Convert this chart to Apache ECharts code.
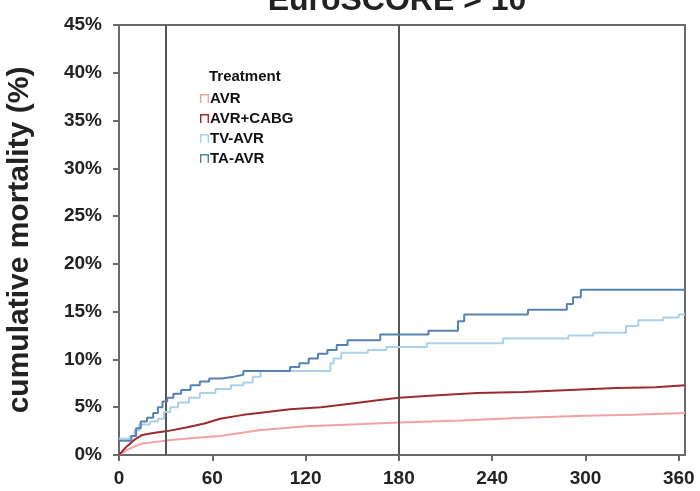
<!DOCTYPE html>
<html>
<head>
<meta charset="utf-8">
<script src="https://cdn.jsdelivr.net/npm/echarts@6/dist/echarts.min.js"></script>
<style>
  html, body { margin: 0; padding: 0; background: #fff; }
  #chart { width: 700px; height: 491px; }
</style>
</head>
<body>
<div id="chart"></div>
<script>
// Cumulative mortality by treatment group, days 0-360 (Kaplan-Meier style curves)
const titleText = 'EuroSCORE > 10';
const seriesNames = ['AVR', 'AVR+CABG', 'TV-AVR', 'TA-AVR'];
const seriesColors = ['#f2a2a4', '#9c2b2e', '#a9d2ea', '#5582b0'];
const xTicks = [0, 60, 120, 180, 240, 300, 360];
const yTicks = [0, 5, 10, 15, 20, 25, 30, 35, 40, 45];
const referenceDays = [30, 180];

// [day, cumulative mortality %]
const avr = [[0,0],[5,0.5],[10,0.9],[15,1.2],[25,1.4],[35,1.6],[50,1.8],[65,2.0],[90,2.6],[120,3.0],[150,3.2],[180,3.4],[220,3.6],[260,3.9],[300,4.1],[330,4.2],[364,4.4]];
const avrCabg = [[0,0],[5,0.9],[10,1.6],[15,2.1],[22,2.3],[31,2.5],[44,2.9],[55,3.3],[65,3.8],[80,4.2],[90,4.4],[110,4.8],[130,5.0],[150,5.4],[165,5.7],[180,6.0],[200,6.2],[230,6.5],[260,6.6],[290,6.8],[320,7.0],[345,7.1],[364,7.3]];
const tvAvr = [[0,1.7],[7,2.0],[10,2.6],[13,3.2],[20,3.5],[25,3.8],[29,4.5],[33,5.0],[38,5.5],[45,6.0],[52,6.5],[62,6.9],[72,7.3],[80,7.6],[86,8.2],[91,8.8],[136,9.6],[138,10.1],[143,10.7],[160,11.0],[172,11.3],[198,11.7],[247,12.2],[289,12.5],[305,12.8],[326,13.5],[334,14.1],[350,14.4],[360,14.7],[364,14.7]];
const taAvr = [[0,1.5],[8,2.0],[11,2.8],[14,3.5],[18,3.9],[22,4.4],[25,5.0],[28,5.6],[31,6.0],[35,6.4],[40,6.8],[46,7.3],[52,7.7],[58,8.0],[66,8.2],[74,8.4],[80,8.8],[110,9.2],[116,9.6],[122,10.1],[128,10.6],[134,11.0],[140,11.5],[147,12.0],[168,12.6],[199,13.0],[218,14.0],[222,14.7],[263,15.2],[288,15.8],[292,16.5],[297,17.3],[364,17.3]];

const seriesData = [avr, avrCabg, tvAvr, taAvr];
const stepped = [false, false, 'end', 'end'];

// open-bottom square marker used in the legend
const legendIcon = 'path://M0,10L0,0L10,0L10,10L8.4,10L8.4,1.6L1.6,1.6L1.6,10Z';

const chart = echarts.init(document.getElementById('chart'), null, { renderer: 'canvas' });

const series = seriesNames.map((name, i) => ({
  name,
  type: 'line',
  data: seriesData[i],
  step: stepped[i],
  showSymbol: false,
  symbol: 'none',
  z: 3 + i,
  lineStyle: { color: seriesColors[i], width: 2 },
  itemStyle: { color: seriesColors[i] }
}));

// vertical reference lines at 30 and 180 days
series.push({
  type: 'line',
  data: [],
  markLine: {
    silent: true,
    symbol: 'none',
    label: { show: false },
    lineStyle: { color: '#555555', width: 2, type: 'solid' },
    data: referenceDays.map(d => ({ xAxis: d }))
  },
  z: 2
});

chart.setOption({
  animation: false,
  backgroundColor: '#ffffff',
  textStyle: { fontFamily: 'Liberation Sans, Arial, sans-serif' },
  title: [
    {
      text: titleText,
      left: 392, top: -20,
      textAlign: 'center',
      textStyle: { fontSize: 32, fontWeight: 'bold', color: '#222' }
    },
    {
      text: 'Treatment',
      left: 204, top: 64,
      textStyle: { fontSize: 15, fontWeight: 'bold', color: '#111' }
    }
  ],
  legend: {
    orient: 'vertical',
    left: 195, top: 86,
    itemWidth: 9, itemHeight: 10,
    itemGap: 5,
    icon: legendIcon,
    textStyle: { fontSize: 15, fontWeight: 'bold', color: '#111', padding: [0, 0, 0, -4] },
    data: seriesNames
  },
  grid: {
    left: 119, right: 15, top: 25, bottom: 36,
    outerBoundsMode: 'none',
    containLabel: false,
    show: true,
    borderColor: '#6a6a6a', borderWidth: 2,
    backgroundColor: 'transparent'
  },
  xAxis: {
    type: 'value',
    min: 0, max: 364,
    interval: 60,
    axisLine: { show: true, lineStyle: { color: '#6a6a6a', width: 2 } },
    axisTick: { show: true, length: 6, customValues: xTicks, lineStyle: { color: '#6a6a6a', width: 2 } },
    axisLabel: { customValues: xTicks, fontSize: 19, fontWeight: 'bold', color: '#222', margin: 14 },
    splitLine: { show: false }
  },
  yAxis: {
    type: 'value',
    min: 0, max: 45, interval: 5,
    name: 'cumulative mortality (%)',
    nameLocation: 'middle',
    nameGap: 84,
    nameTextStyle: { fontSize: 30, fontWeight: 'bold', color: '#222' },
    axisLine: { show: true, lineStyle: { color: '#6a6a6a', width: 2 } },
    axisTick: { show: true, length: 6, lineStyle: { color: '#6a6a6a', width: 2 } },
    axisLabel: { fontSize: 19, fontWeight: 'bold', color: '#222', margin: 17, formatter: v => yTicks.includes(v) ? v + '%' : '' },
    splitLine: { show: false }
  },
  series
});
</script>
</body>
</html>
